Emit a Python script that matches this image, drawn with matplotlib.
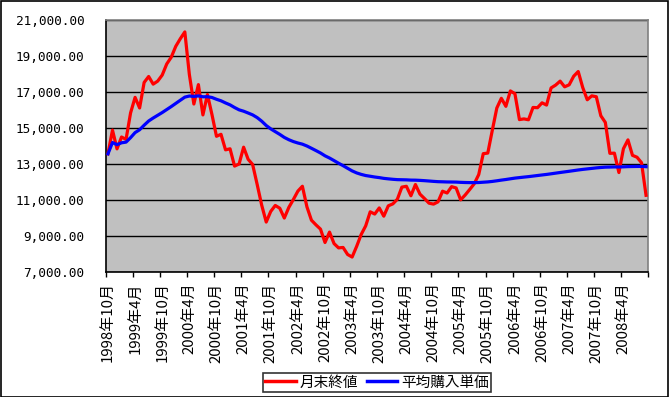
import matplotlib
matplotlib.use("Agg")
import matplotlib.pyplot as plt
from matplotlib.patches import Rectangle
from matplotlib.ticker import FixedLocator, FuncFormatter, NullFormatter

plt.rcParams['font.family'] = ['Noto Sans CJK JP', 'DejaVu Sans']

# Month-end close (月末終値), 1998-10 .. 2008-09
close = [
    13565, 14884, 13842,
    14499, 14368, 15837, 16702, 16112, 17530, 17862, 17437, 17605, 17942, 18558, 18934,
    19540, 19960, 20337, 17974, 16332, 17411, 15727, 16861, 15747, 14540, 14649, 13786,
    13844, 12884, 13000, 13934, 13262, 12969, 11861, 10714, 9775, 10366, 10697, 10543,
    9998, 10588, 11025, 11493, 11764, 10622, 9878, 9619, 9383, 8640, 9216, 8579,
    8340, 8363, 7973, 7831, 8425, 9083, 9563, 10344, 10219, 10560, 10101, 10677,
    10784, 11042, 11715, 11762, 11236, 11859, 11326, 11082, 10824, 10771, 10899, 11489,
    11388, 11741, 11669, 11009, 11277, 11584, 11900, 12414, 13574, 13607, 14872, 16111,
    16650, 16205, 17060, 16906, 15467, 15505, 15457, 16141, 16128, 16399, 16274, 17226,
    17383, 17604, 17288, 17400, 17876, 18138, 17249, 16569, 16786, 16738, 15681, 15308,
    13592, 13603, 12526, 13850, 14339, 13481, 13377, 13073, 11260,
]

# Average purchase price (平均購入単価)
avg_cost = [
    13565, 14193, 14075,
    14178, 14216, 14463, 14745, 14903, 15155, 15389, 15555, 15707, 15859, 16025, 16191,
    16367, 16542, 16715, 16777, 16754, 16784, 16733, 16739, 16695, 16596, 16512, 16392,
    16285, 16138, 16009, 15933, 15833, 15728, 15578, 15379, 15138, 14952, 14797, 14645,
    14477, 14349, 14246, 14167, 14102, 14000, 13874, 13745, 13613, 13455, 13332, 13189,
    13043, 12907, 12761, 12616, 12505, 12423, 12359, 12319, 12277, 12244, 12202, 12175,
    12150, 12131, 12125, 12119, 12105, 12102, 12090, 12074, 12055, 12035, 12018, 12011,
    12002, 11999, 11995, 11981, 11972, 11967, 11966, 11971, 11988, 12005, 12032, 12067,
    12105, 12139, 12178, 12216, 12244, 12272, 12298, 12329, 12360, 12391, 12421, 12456,
    12492, 12528, 12562, 12596, 12632, 12668, 12700, 12728, 12756, 12784, 12806, 12825,
    12831, 12838, 12835, 12843, 12855, 12860, 12864, 12866, 12851,
]

series_names = ['月末終値', '平均購入単価']
start_year, start_month = 1998, 10
months = []
y, m = start_year, start_month
for _ in range(len(close)):
    months.append(f"{y}年{m}月")
    m += 1
    if m > 12:
        m = 1
        y += 1

y_ticks = [7000, 9000, 11000, 13000, 15000, 17000, 19000, 21000]

W, H = 669, 397
fig = plt.figure(figsize=(W / 100, H / 100), dpi=100)
fig.patch.set_facecolor('white')

left, right, top, bottom = 105.7, 648.3, 20, 272
ax = fig.add_axes([left / W, 1 - bottom / H, (right - left) / W, (bottom - top) / H])
ax.set_facecolor('#C0C0C0')

x = list(range(len(close)))
ax.plot(x, close, color='#FF0000', lw=2.3, label=series_names[0], zorder=3)
ax.plot(x, avg_cost, color='#0000FF', lw=2.3, label=series_names[1], zorder=4)

ax.set_xlim(-0.5, len(close) - 0.5)
ax.set_ylim(y_ticks[0], y_ticks[-1])

# y axis
ax.set_yticks(y_ticks)
ax.yaxis.set_major_formatter(FuncFormatter(lambda v, p: f"{v:,.2f}"))
ax.tick_params(axis='y', length=0, pad=15.5)
for lab in ax.get_yticklabels():
    lab.set_fontfamily('DejaVu Sans Mono')
    lab.set_fontsize(9.2)
ax.grid(axis='y', color='black', lw=1.0, zorder=1)

# x axis: ticks between categories, labels centered on categories
n = len(close)
ax.xaxis.set_major_locator(FixedLocator([-0.5 + 6 * k for k in range(n // 6 + 1)]))
ax.xaxis.set_major_formatter(NullFormatter())
label_pos = list(range(0, n, 6))
ax.xaxis.set_minor_locator(FixedLocator(label_pos))
ax.xaxis.set_minor_formatter(FuncFormatter(lambda v, p: months[int(round(v))]))
ax.tick_params(axis='x', which='major', length=3.5, width=1, direction='out', color='black')
ax.tick_params(axis='x', which='minor', length=0, pad=7.5, labelsize=10.8, labelrotation=90)
for lab in ax.xaxis.get_minorticklabels():
    lab.set_verticalalignment('top')
    lab.set_horizontalalignment('center')

for s in ['left', 'bottom']:
    ax.spines[s].set_color('black')
    ax.spines[s].set_linewidth(1.2)
for s in ['top', 'right']:
    ax.spines[s].set_color('#808080')
    ax.spines[s].set_linewidth(1.2)

leg = fig.legend(loc='center', bbox_to_anchor=(377 / W, 1 - 382.5 / H), ncol=2,
                 frameon=True, fancybox=False, shadow=False, fontsize=10.5,
                 handlelength=2.1, handletextpad=0.25, columnspacing=0.6,
                 borderpad=0.15, borderaxespad=0)
leg.get_frame().set_edgecolor('black')
leg.get_frame().set_linewidth(1.2)
for line in leg.get_lines():
    line.set_linewidth(2.5)

fig.patches.append(Rectangle((0.5 / W, 0.5 / H), 1 - 1.5 / W, 1 - 1.5 / H,
                             transform=fig.transFigure, fill=False,
                             edgecolor='black', lw=1.2))

fig.savefig('out.png', dpi=100)
